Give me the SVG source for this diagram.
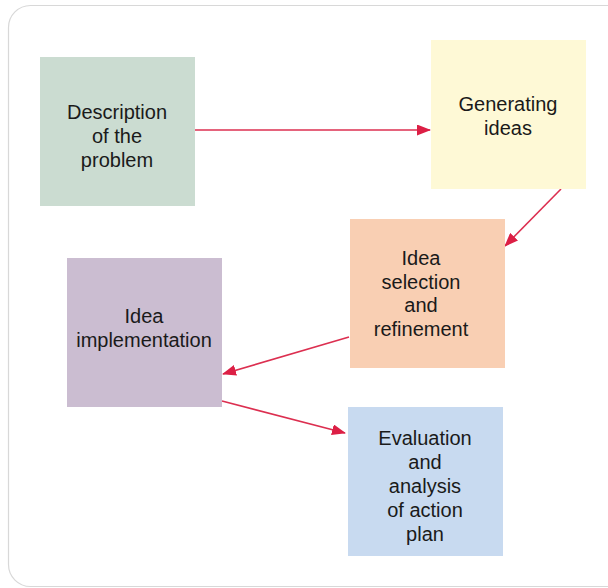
<svg xmlns="http://www.w3.org/2000/svg" width="608" height="588" viewBox="0 0 608 588">
<defs>
<style>
.t{font-family:"Liberation Sans",Arial,sans-serif;font-size:20px;fill:#1a1a1a;text-anchor:middle}
.c{stroke:#dc2f50;stroke-width:1.6;fill:none}
</style>
<marker id="ah" viewBox="0 0 14 11" refX="13" refY="5.5" markerWidth="14" markerHeight="11" markerUnits="userSpaceOnUse" orient="auto">
<path d="M0,0 L14,5.5 L0,11 Z" fill="#dc1f45"/>
</marker>
</defs>
<rect x="8.5" y="5.5" width="640" height="581" rx="22" fill="#fff" stroke="#d8d8d8" stroke-width="1.2"/>
<g id="connectors">
<line class="c" x1="195" y1="130" x2="430" y2="130" marker-end="url(#ah)"/>
<line class="c" x1="561" y1="189" x2="505" y2="246" marker-end="url(#ah)"/>
<line class="c" x1="349" y1="337" x2="223" y2="374" marker-end="url(#ah)"/>
<line class="c" x1="222" y1="401" x2="345" y2="433" marker-end="url(#ah)"/>
</g>
<g id="n1"><rect x="40" y="57" width="155" height="149" fill="#cbdcd1"/>
<text class="t" x="117" y="119">Description</text><text class="t" x="117" y="143">of the</text><text class="t" x="117" y="167">problem</text></g>
<g id="n2"><rect x="431" y="40" width="155" height="149" fill="#fef9d6"/>
<text class="t" x="508" y="111">Generating</text><text class="t" x="508" y="135">ideas</text></g>
<g id="n3"><rect x="350" y="219" width="155" height="149" fill="#f9cfb3"/>
<text class="t" x="421" y="265">Idea</text><text class="t" x="421" y="289">selection</text><text class="t" x="421" y="312">and</text><text class="t" x="421" y="336">refinement</text></g>
<g id="n4"><rect x="67" y="258" width="155" height="149" fill="#cbbdd1"/>
<text class="t" x="144" y="323">Idea</text><text class="t" x="144" y="347">implementation</text></g>
<g id="n5"><rect x="348" y="407" width="155" height="149" fill="#c8daf0"/>
<text class="t" x="425" y="445">Evaluation</text><text class="t" x="425" y="469">and</text><text class="t" x="425" y="493">analysis</text><text class="t" x="425" y="517">of action</text><text class="t" x="425" y="541">plan</text></g>
</svg>
